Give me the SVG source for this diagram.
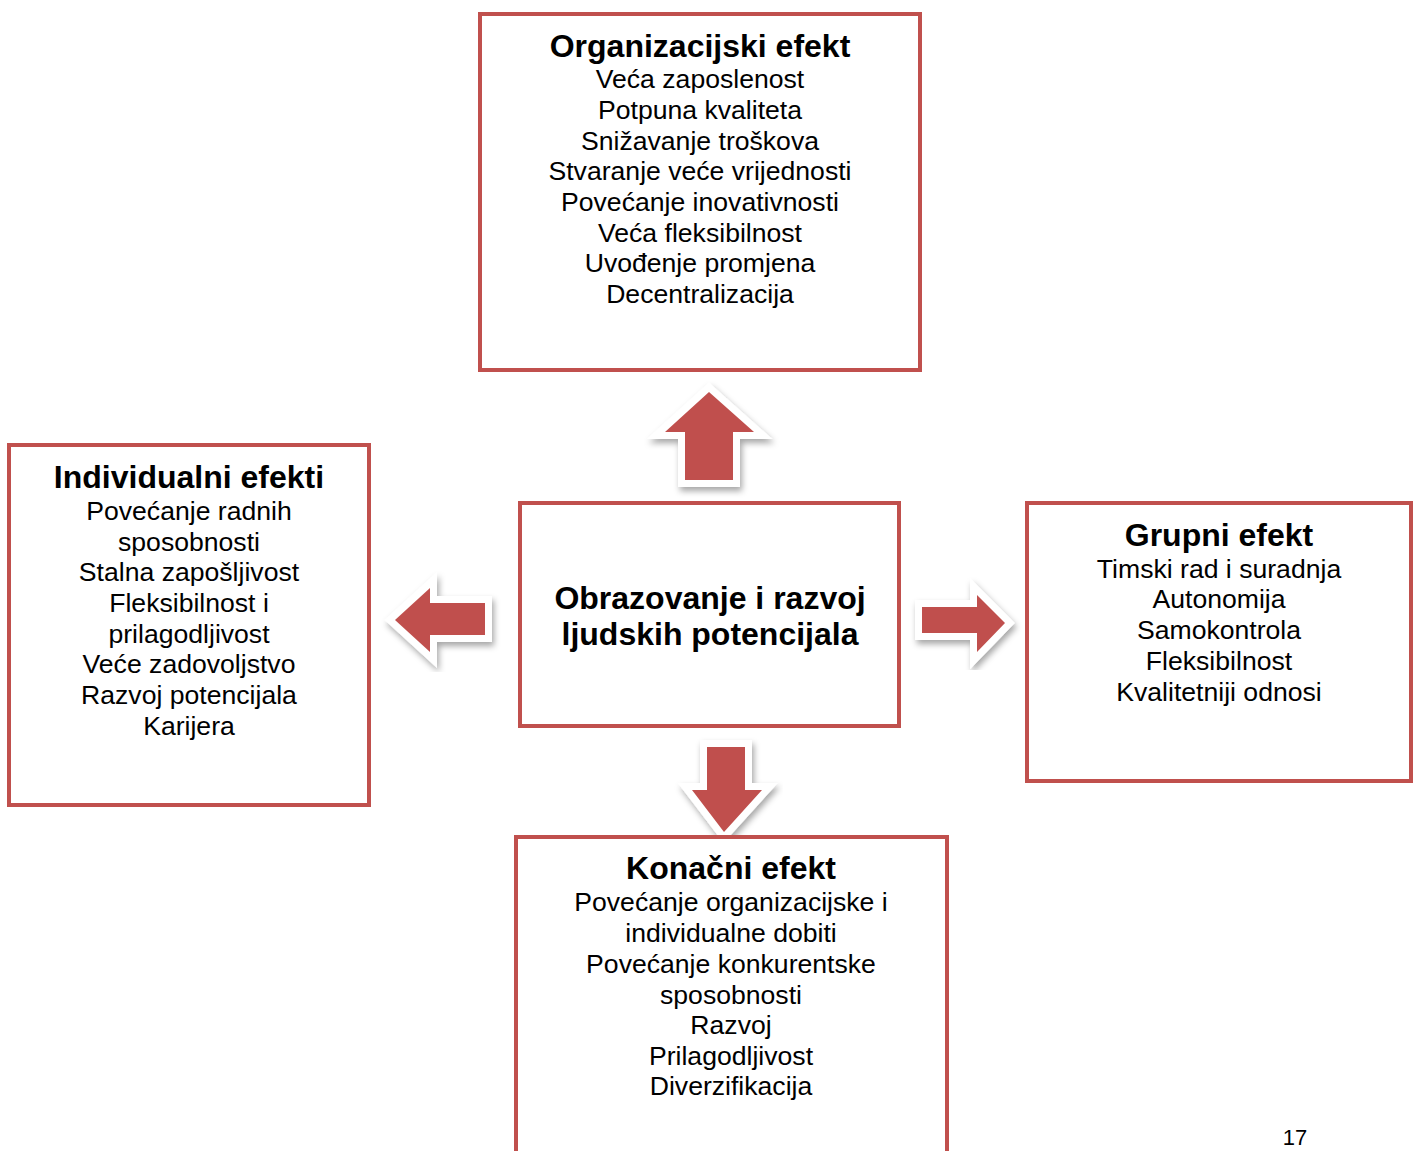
<svg xmlns="http://www.w3.org/2000/svg" width="1419" height="1151" viewBox="0 0 1419 1151">
<defs>
<filter id="sh" x="-30%" y="-30%" width="160%" height="160%">
<feDropShadow dx="2" dy="4" stdDeviation="3" flood-color="#000" flood-opacity="0.35"/>
</filter>
<style>
.box{fill:#fff;stroke:#C0504D;stroke-width:4}
.arr{fill:#C0504D;stroke:#fff;stroke-width:14;stroke-linejoin:miter;paint-order:stroke;filter:url(#sh)}
text{font-family:"Liberation Sans",Arial,sans-serif;fill:#000;text-anchor:middle}
.t{font-size:32px;font-weight:bold}
.b{font-size:26.6px}
</style>
</defs>
<rect width="1419" height="1151" fill="#fff"/>
<g id="connectors">
<polygon class="arr" points="709,392 754,432 733,432 733,480 685,480 685,432 665,432"/>
<polygon class="arr" points="395,620 430,588 430,603 485,603 485,635 430,635 430,652"/>
<polygon class="arr" points="1005,623 977,595 977,607 922,607 922,633 977,633 977,652"/>
<polygon class="arr" points="724,832 762,790 745,790 745,747 707,747 707,790 692,790"/>
</g>
<g id="org">
<rect class="box" x="480" y="14" width="440" height="356"/>
<text class="t" x="700" y="57">Organizacijski efekt</text>
<text class="b" x="700" y="88">Veća zaposlenost</text>
<text class="b" x="700" y="119">Potpuna kvaliteta</text>
<text class="b" x="700" y="150">Snižavanje troškova</text>
<text class="b" x="700" y="180">Stvaranje veće vrijednosti</text>
<text class="b" x="700" y="211">Povećanje inovativnosti</text>
<text class="b" x="700" y="242">Veća fleksibilnost</text>
<text class="b" x="700" y="272">Uvođenje promjena</text>
<text class="b" x="700" y="303">Decentralizacija</text>
</g>
<g id="ind">
<rect class="box" x="9" y="445" width="360" height="360"/>
<text class="t" x="189" y="488">Individualni efekti</text>
<text class="b" x="189" y="520">Povećanje radnih</text>
<text class="b" x="189" y="551">sposobnosti</text>
<text class="b" x="189" y="581">Stalna zapošljivost</text>
<text class="b" x="189" y="612">Fleksibilnost i</text>
<text class="b" x="189" y="643">prilagodljivost</text>
<text class="b" x="189" y="673">Veće zadovoljstvo</text>
<text class="b" x="189" y="704">Razvoj potencijala</text>
<text class="b" x="189" y="735">Karijera</text>
</g>
<g id="center">
<rect class="box" x="520" y="503" width="379" height="223"/>
<text class="t" x="710" y="609">Obrazovanje i razvoj</text>
<text class="t" x="710" y="645">ljudskih potencijala</text>
</g>
<g id="grp">
<rect class="box" x="1027" y="503" width="384" height="278"/>
<text class="t" x="1219" y="546">Grupni efekt</text>
<text class="b" x="1219" y="578">Timski rad i suradnja</text>
<text class="b" x="1219" y="608">Autonomija</text>
<text class="b" x="1219" y="639">Samokontrola</text>
<text class="b" x="1219" y="670">Fleksibilnost</text>
<text class="b" x="1219" y="701">Kvalitetniji odnosi</text>
</g>
<g id="fin">
<rect class="box" x="516" y="837" width="431" height="330"/>
<text class="t" x="731" y="879">Konačni efekt</text>
<text class="b" x="731" y="911">Povećanje organizacijske i</text>
<text class="b" x="731" y="942">individualne dobiti</text>
<text class="b" x="731" y="973">Povećanje konkurentske</text>
<text class="b" x="731" y="1004">sposobnosti</text>
<text class="b" x="731" y="1034">Razvoj</text>
<text class="b" x="731" y="1065">Prilagodljivost</text>
<text class="b" x="731" y="1095">Diverzifikacija</text>
</g>
<text x="1295" y="1145" style="font-size:22px">17</text>
</svg>
